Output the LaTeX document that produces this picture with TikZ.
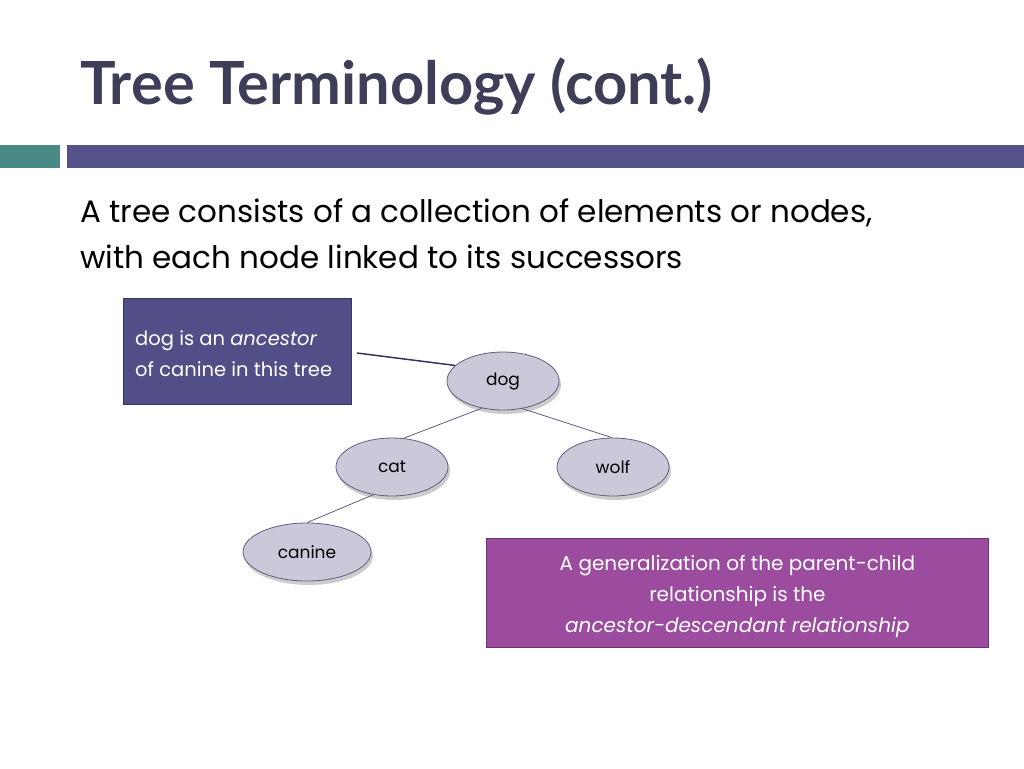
\documentclass[tikz,border=0pt]{standalone}
\usepackage{fontspec}
\setmainfont{Poppins}
\newfontfamily\titlefont{Lato}
\usetikzlibrary{shadows,shapes.geometric}
\definecolor{titlegray}{HTML}{3E3E58}
\definecolor{barteal}{HTML}{4A8A86}
\definecolor{barpurple}{HTML}{55548A}
\definecolor{notefill}{HTML}{524F88}
\definecolor{noteline}{HTML}{37355F}
\definecolor{treefill}{HTML}{C9C9DA}
\definecolor{treeline}{HTML}{5E5E82}
\definecolor{boxfill}{HTML}{9B4C9F}
\definecolor{boxline}{HTML}{6C3470}
\tikzset{
  treenode/.style={ellipse, draw=treeline, fill=treefill, line width=.8pt,
    minimum width=112pt, minimum height=58pt, inner sep=0pt,
    font=\fontsize{17}{20}\selectfont,
    drop shadow={shadow xshift=2pt, shadow yshift=-4pt, opacity=.4}},
  edge/.style={draw=treeline, line width=.8pt}
}
\begin{document}
\begin{tikzpicture}[x=1pt, y=-1pt]
        \useasboundingbox (0,0) rectangle (1024,768);
        % title and bars
        \node[anchor=base west, inner sep=0pt, text=titlegray,
          font=\titlefont\bfseries\fontsize{59.5}{64}\selectfont] (title) at (80,104) {Tree Terminology (cont.)};
        \fill[barteal] (0,145) rectangle (60,168);
        \fill[barpurple] (67,145) rectangle (1024,168);
        % body text
        \node[anchor=base west, inner sep=0pt, font=\fontsize{31}{36}\selectfont] (line1) at (80,222) {A tree consists of a collection of elements or nodes,};
        \node[anchor=base west, inner sep=0pt, font=\fontsize{31}{36}\selectfont] (line2) at (80,268) {with each node linked to its successors};
        % callout
        \node[draw=noteline, fill=notefill, line width=.8pt, minimum width=228pt, minimum height=106pt,
          anchor=north west] (note) at (123,298) {};
        \node[anchor=north west, text=white, align=left, inner sep=0pt,
          font=\fontsize{19.5}{31}\selectfont] (notetext) at (135,330) {dog is an \textit{ancestor}\\of canine in this tree};
        % tree
        \node[treenode] (dog) at (503,381) {dog};
        \node[treenode] (cat) at (392,467) {cat};
        \node[treenode] (wolf) at (613,467) {wolf};
        \node[treenode, minimum width=128pt] (canine) at (307,552) {canine};
        \coordinate (noteend) at (357,353);
        \draw[noteline, line width=1.5pt] (noteend) -- (dog.162);
        \draw[edge] (dog.232) -- (cat.68);
        \draw[edge] (dog.305) -- (wolf.92);
        \draw[edge] (cat.236) -- (canine.90);
        % generalization box
        \node[draw=boxline, fill=boxfill, line width=.8pt, minimum width=502pt, minimum height=109pt,
          anchor=north west] (gen) at (486,538) {};
        \node[text=white, align=center, inner sep=0pt, font=\fontsize{20}{31}\selectfont] (gentext) at ([yshift=-4pt]gen.center)
          {A generalization of the parent-child\\relationship is the\\\textit{ancestor-descendant relationship}};
\end{tikzpicture}
\end{document}
